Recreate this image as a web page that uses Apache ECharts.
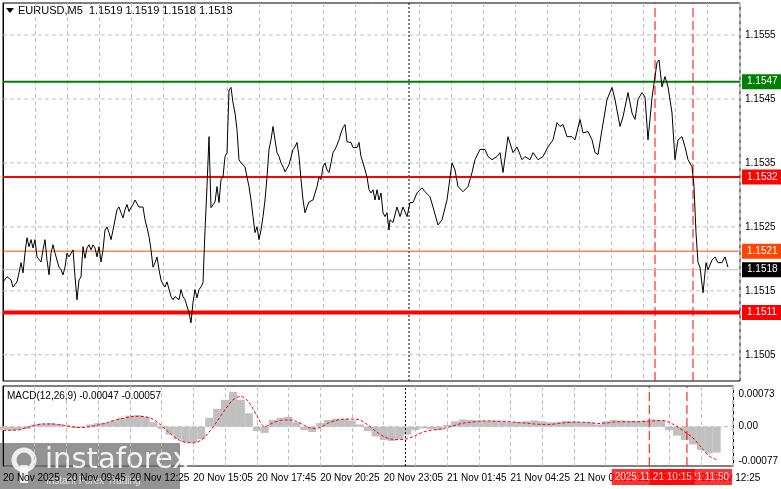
<!DOCTYPE html>
<html><head><meta charset="utf-8">
<script src="https://cdn.jsdelivr.net/npm/echarts@6/dist/echarts.min.js"></script>
<style>html,body{margin:0;padding:0;background:#fff}#c{width:781px;height:489px}</style>
</head><body><div id="c"></div>
<script>
// ---------- DATA ----------
const title = "EURUSD,M5  1.1519 1.1519 1.1518 1.1518";
const macdTitle = "MACD(12,26,9) -0.00047 -0.00057";
const timeLabels = ["20 Nov 2025","20 Nov 09:45","20 Nov 12:25","20 Nov 15:05","20 Nov 17:45","20 Nov 20:25","20 Nov 23:05","21 Nov 01:45","21 Nov 04:25","21 Nov 07:05","21 Nov 09:45","21 Nov 12:25"];
const priceTicks = [1.1505,1.1515,1.1525,1.1535,1.1545,1.1555];
const macdTicks = [0.00073,0,-0.00077];
const pricesA = [1.15164,1.15172,1.15167,1.15156,1.15164,
1.15178,1.15194,1.15178,1.15209,1.15233,1.15219,1.1523,1.15217,1.1523,1.15203,1.15206,1.15195,1.15214,1.1523,1.15198,1.15175,1.15209,1.15222,1.15209,1.15209,1.15187,1.15183,1.15175,1.15187,1.15209,1.15203,1.15206,1.15214,1.15172,1.15136,1.15167,1.15172,1.15219,1.15201,1.15217,1.15222,1.15214,1.15222,1.15217,1.15203,1.15219,1.15195,1.15214,1.15245,1.1525,1.15241,1.1523,1.15245,1.15245,1.15277,1.15281,1.15272,1.15264,1.15277,1.15285,1.15274,1.1528,1.15285,1.15292,1.15289,1.15281,1.1528,1.15281,1.15261,1.15249,1.15235,1.15214,1.15187,1.15194,1.15203,1.15183,1.15167,1.1516,1.15156,1.15164,1.15167,1.15141,1.15136,1.15141,1.15144,1.15136,1.15152,1.15141,1.15136,1.15133,1.15116,1.151,1.15132,1.15152,1.15139,1.15152,1.15156,1.15163,1.15245,1.15313,1.15391,1.1528,1.15281,1.15289,1.15313,1.15288,1.15324,1.15328,1.1536,1.15366,1.15464,1.15468,1.15444,1.15428,1.15402,1.15355,1.1535,1.15347,1.15344,1.15328,1.15313,1.15292,1.15266,1.15241,1.1525,1.1523,1.15245,1.15266,1.15292,1.15328,1.15371,1.15386,1.15407,1.15386,1.15366,1.1536,1.1535,1.15344,1.15336,1.15339,1.15347,1.15344,1.15371,1.15375,1.15382,1.1536,1.15324,1.15292,1.15272,1.15281,1.15289,1.15292,1.15292,1.15292,1.15313,1.15328,1.15324,1.15344,1.1535,1.15339,1.15335,1.1535,1.15366,1.15371,1.15378,1.15386,1.15397,1.15405,1.1541,1.15383,1.15382,1.15382,1.15374,1.15371,1.15374,1.15382,1.1536,1.1535,1.15339,1.15328,1.15308,1.15303,1.15308,1.15292,1.15308,1.15292,1.15303,1.15272,1.15266,1.15272,1.15245];
const barsB = [193.5,195,197,198.5,200,202,203.5,205,207,209.5,211,213.5,215,217.5,219.5,222,224.5,226,227.5,230,232.5,234.5,236,238.5,241,242.5,244.5,247,248.5,250,252.5,255,257,259.5,261,263.5,265,267.5,270,272.5,275,277,278.5,280,282,284.5,286,288.5,290,292.5,294.5,296,297.5,299.5,302,304.5,306,308.5,310,312.5,314.5,316,317.5,319.5,321,322.5,324.5,327,328,329.5,331,332.5,334.5,336,337.5,339.5,341,342.5,344.5,345.5,346.5,347.5,348.5,350,351.5,352.5,354.5,356,357.5,359.5,361,362.5];
const pricesB = [1.15261,1.15257,1.15281,1.15266,1.15281,1.15266,1.15288,1.15288,1.15303,1.15311,1.15305,1.15297,1.15281,1.15253,1.15261,1.15292,1.1535,1.15339,1.15313,1.15305,1.15313,1.15335,1.15355,1.15371,1.15371,1.1536,1.15355,1.1536,1.15366,1.15335,1.15391,1.15366,1.15375,1.15355,1.1536,1.15355,1.15366,1.15355,1.1536,1.15375,1.15386,1.15413,1.15407,1.1541,1.15391,1.15391,1.15386,1.15418,1.15397,1.15399,1.15386,1.15366,1.15363,1.15402,1.15449,1.15468,1.15449,1.15407,1.15422,1.1546,1.15428,1.15418,1.15449,1.1546,1.15453,1.15386,1.15452,1.15507,1.15511,1.15469,1.15485,1.15469,1.15428,1.15355,1.15386,1.15391,1.15375,1.15355,1.15344,1.15313,1.15241,1.15194,1.15187,1.15147,1.15194,1.15183,1.15198,1.15203,1.15194,1.15194,1.15203,1.15187];
const macdHist = [-8,-9,-8,-5,5,7,8,6,2,-3,-2,5,8,9,14,20,25,26,22,10,-5,-18,-28,-35,-36,-28,20,40,60,78,60,30,-10,-14,15,20,22,10,-8,-12,8,15,18,17,14,5,-10,-22,-30,-32,-28,-18,-8,-4,-6,-8,4,12,16,15,14,13,14,12,10,11,12,14,12,10,11,13,12,10,10,5,12,15,14,13,12,14,16,14,-8,-20,-30,-40,-52,-60,-58];
const macdSignal = [-9,-8,-7,-2,3,6,6,5,2,-1,-2,0,4,8,14,18,22,23,22,16,2,-14,-28,-35,-36,-30,-12,12,38,60,68,55,25,0,8,14,15,12,3,-4,-2,8,14,17,17,15,4,-10,-22,-28,-29,-27,-20,-12,-8,-6,-2,3,8,10,12,13,12,12,11,9,8,6,5,5,7,9,10,10,9,7,8,10,11,11,11,12,13,14,10,0,-12,-25,-45,-65,-74];
// level lines: plotted position and their label text
const levelValues = [1.15477, 1.15328, 1.15212, 1.15183, 1.15116];
const levelTexts = ['1.1547','1.1532','1.1521','1.1518','1.1511'];
const levelColors = ['#008000','#ff0000','#ff4500','#c0c0c0','#ff0000'];
const levelLabelColors = ['#008000','#ff0000','#ff4500','#000000','#ff0000'];
const levelWidths = [2,2,1,1,4];
const dayBreakBar = 203;
const eventBars = [326, 345];
const eventLabels = ["2025.11.21 10:15","2025.11.21 11:50"];

// ---------- BUILD ----------
const XMAX = 368.5, YMIN = 1.15009, YMAX = 1.1560, MMIN = -0.00088, MMAX = 0.00091;
const font = 'Liberation Sans';
const priceData = [];
const barsA = [0,2,4,5,7];
for (let i = 8; barsA.length < pricesA.length; i++) barsA.push(i);
pricesA.forEach((p,i)=>priceData.push([barsA[i],p]));
pricesB.forEach((p,i)=>priceData.push([barsB[i],p]));
const histData = macdHist.map((v,i)=>[i*4, v*1e-5]);
const sigData = macdSignal.map((v,i)=>[i*4, v*1e-5]);

const series = [];
function hline(g, v, color, width, type, z, label){
  const s = {type:'line', xAxisIndex:g, yAxisIndex:g, data:[[0,v],[XMAX,v]], showSymbol:false, silent:true, z:z,
    lineStyle:{color:color,width:width,type:type}};
  if (label) s.endLabel = {show:true, formatter:label.text, color:'#fff', backgroundColor:label.bg, padding:[3,5,2,5], fontSize:10, fontFamily:font, distance:2};
  series.push(s);
}
function vline(g, b, color, type, z){
  series.push({type:'line', xAxisIndex:g, yAxisIndex:g, data: g===0?[[b,YMIN],[b,YMAX]]:[[b,MMIN],[b,MMAX]], showSymbol:false, silent:true, z:z,
    lineStyle:{color:color,width:1,type:type}});
}
priceTicks.forEach(v=>hline(0, v, '#c0c0c0', 1, [4,3], 1));
hline(1, 0, '#c0c0c0', 1, [4,3], 1);
[0,1].forEach(g=>{
  vline(g, dayBreakBar, '#000', [2,2], 3);
  eventBars.forEach(b=>vline(g, b, '#ff0000', [9,4], 3));
});
levelValues.forEach((v,i)=>hline(0, v, levelColors[i], levelWidths[i], 'solid', 4, {text:levelTexts[i], bg:levelLabelColors[i]}));
series.push({type:'line', xAxisIndex:0, yAxisIndex:0, data:priceData, showSymbol:false, lineStyle:{color:'#000',width:1}, z:5});
series.push({type:'bar', xAxisIndex:1, yAxisIndex:1, data:histData, barWidth:8, itemStyle:{color:'#c0c0c0'}, z:2});
series.push({type:'line', xAxisIndex:1, yAxisIndex:1, data:sigData, showSymbol:false, smooth:0.3, lineStyle:{color:'#ff0000',width:1,type:[3,2]}, z:6});
[1,0].forEach((k,j)=>series.push({type:'scatter', xAxisIndex:1, yAxisIndex:1, data:[[eventBars[k]+2, MMIN]], symbolSize:0, silent:true, z:20+j,
  label:{show:true, position:'bottom', distance:3, formatter:eventLabels[k], color:'#fff', backgroundColor:'#ff0000', padding:[3,3,3,3], fontSize:10, fontFamily:font}}));

const chart = echarts.init(document.getElementById('c'));
chart.setOption({
  animation:false,
  backgroundColor:'#fff',
  textStyle:{fontFamily:font},
  grid:[
    {left:3, right:41, top:3, height:378, show:true, borderColor:'#000', borderWidth:1},
    {left:3, right:41, top:386, height:80, show:true, borderColor:'#000', borderWidth:1}
  ],
  xAxis:[
    {type:'value', gridIndex:0, min:0, max:XMAX, interval:16, axisLine:{show:false}, axisTick:{show:false}, axisLabel:{show:false},
     splitLine:{show:true,lineStyle:{color:'#c0c0c0',type:[4,3]}}},
    {type:'value', gridIndex:1, min:0, max:XMAX, interval:16, axisLine:{show:false}, axisTick:{show:false},
     axisLabel:{show:true, customValues:timeLabels.map((t,i)=>i*32), formatter:v=>timeLabels[Math.round(v/32)]||'', align:'left', color:'#000', fontSize:10, margin:7, hideOverlap:false},
     splitLine:{show:true,lineStyle:{color:'#c0c0c0',type:[4,3]}}}
  ],
  yAxis:[
    {type:'value', gridIndex:0, position:'right', min:YMIN, max:YMAX, axisLine:{show:true,lineStyle:{color:'#000'}}, axisTick:{show:false},
     splitLine:{show:false}, axisLabel:{customValues:priceTicks, formatter:v=>v.toFixed(4), color:'#000', fontSize:10, margin:5}},
    {type:'value', gridIndex:1, position:'right', min:MMIN, max:MMAX, axisLine:{show:true,lineStyle:{color:'#000'}}, axisTick:{show:false},
     splitLine:{show:false}, axisLabel:{customValues:macdTicks, formatter:v=>v===0?'0.00':v.toFixed(5), color:'#000', fontSize:10, margin:5}}
  ],
  series: series,
  graphic:[
    {type:'polygon', shape:{points:[[6,8],[14,8],[10,13]]}, style:{fill:'#000'}},
    {type:'text', left:18, top:5, style:{text:title, fontSize:11, fill:'#000', fontFamily:font}},
    {type:'text', left:7, top:391, style:{text:macdTitle, fontSize:10, fill:'#000', fontFamily:font}},
    {type:'group', left:0, top:443, z:100, children:[
      {type:'rect', shape:{x:0,y:0,width:180,height:46}, style:{fill:'rgba(105,105,105,0.72)'}},
      {type:'circle', shape:{cx:24,cy:17,r:10}, style:{fill:'none',stroke:'rgba(255,255,255,0.85)',lineWidth:5}},
      {type:'rect', shape:{x:20,y:22,width:8,height:18}, style:{fill:'rgba(255,255,255,0.85)'}},
      {type:'text', x:45, y:3, style:{text:'instaforex', fontSize:29, fill:'rgba(255,255,255,0.9)', fontFamily:'DejaVu Sans'}},
      {type:'text', x:46, y:33, style:{text:'Instant Forex Trading', fontSize:10, fill:'rgba(235,235,235,0.9)', fontFamily:font}}
    ]}
  ]
});
</script></body></html>
